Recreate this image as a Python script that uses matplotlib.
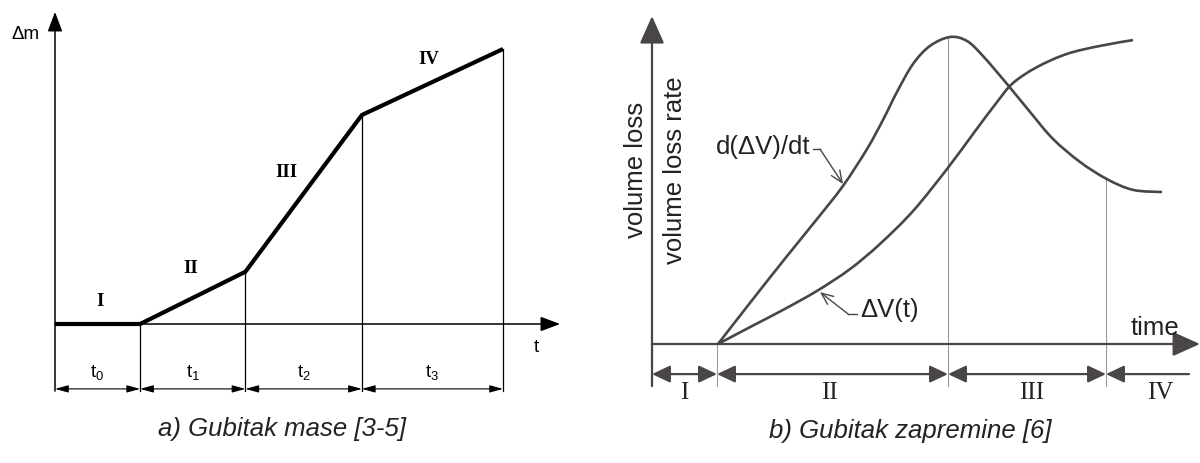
import matplotlib.pyplot as plt
import numpy as np
from matplotlib.path import Path
from matplotlib.patches import PathPatch

plt.rcParams["font.family"] = ["Liberation Sans", "DejaVu Sans"]
plt.rcParams["mathtext.fontset"] = "custom"
plt.rcParams["mathtext.rm"] = "Liberation Sans"
plt.rcParams["mathtext.it"] = "Liberation Sans"

# a) mass loss: phase boundaries (time) and mass loss at each boundary
t_edges = [0.0, 0.76, 1.70, 2.74, 4.0]
mass = [0.0, 0.0, 0.19, 0.76, 1.0]
t_labels = ["$\\mathregular{t_0}$", "$\\mathregular{t_1}$",
            "$\\mathregular{t_2}$", "$\\mathregular{t_3}$"]
stage_labels = ["I", "II", "III", "IV"]

# b) volume loss: rate curve and cumulative curve
rate_t = [0.66, 0.98, 1.31, 1.65, 1.91, 2.15, 2.31, 2.45, 2.61, 2.78,
          2.98, 3.15, 3.31, 3.55, 3.78, 4.01, 4.28, 4.55, 4.81, 5.10]
rate_v = [0.0, 0.134, 0.270, 0.407, 0.515, 0.635, 0.730, 0.821, 0.912, 0.971,
          1.0, 0.987, 0.938, 0.847, 0.756, 0.668, 0.593, 0.537, 0.502, 0.495]
vol_t = [0.66, 0.98, 1.31, 1.65, 1.98, 2.28, 2.61, 2.95, 3.21, 3.45,
         3.61, 3.85, 4.15, 4.48, 4.81]
vol_v = [0.0, 0.055, 0.111, 0.173, 0.244, 0.326, 0.433, 0.570, 0.684, 0.788,
         0.850, 0.902, 0.945, 0.971, 0.990]
phase_edges = [0.0, 0.65, 2.96, 4.54]
phase_end = 5.37
phase_labels = ["I", "II", "III", "IV"]

fig = plt.figure(figsize=(12, 4.64), dpi=100)


def arrow(ax, start, end, style, color, lw, ms, hl, hw):
    ax.annotate("", xy=end, xytext=start, annotation_clip=False,
                arrowprops=dict(arrowstyle=f"{style},head_length={hl},head_width={hw}",
                                color=color, lw=lw, shrinkA=0, shrinkB=0,
                                mutation_scale=ms))


def smooth_curve(ax, xs, ys, **kw):
    # Catmull-Rom through the read points, drawn as cubic Bezier segments
    p = np.column_stack([xs, ys])
    verts = [p[0]]
    codes = [Path.MOVETO]
    for i in range(len(p) - 1):
        p0 = p[i - 1] if i > 0 else p[i]
        p3 = p[i + 2] if i + 2 < len(p) else p[i + 1]
        c1 = p[i] + (p[i + 1] - p0) / 6
        c2 = p[i + 1] - (p3 - p[i]) / 6
        verts += [c1, c2, p[i + 1]]
        codes += [Path.CURVE4] * 3
    ax.add_patch(PathPatch(Path(verts, codes), fill=False, clip_on=False, **kw))


# ---------------- left panel ----------------
axL = fig.add_axes([55 / 1200, (464 - 325) / 464, 448 / 1200, 275 / 464])
axL.set_xlim(0, 4.0)
axL.set_ylim(0, 1)
axL.axis("off")

k = "black"
y_dim = -0.236
y_bot = -0.244
arrow(axL, (0, y_bot), (0, 1.135), "-|>", k, 1.1, 10, 1.2, 0.45)
arrow(axL, (0, 0), (4.51, 0), "-|>", k, 1.1, 10, 1.2, 0.45)
axL.plot(t_edges, mass, color=k, lw=3.0, solid_joinstyle="miter",
         solid_capstyle="butt", clip_on=False, zorder=3)
for t, m in zip(t_edges[1:], mass[1:]):
    axL.plot([t, t], [y_bot, m], color=k, lw=0.9, clip_on=False)
for i in range(4):
    arrow(axL, (t_edges[i], y_dim), (t_edges[i + 1], y_dim), "<|-|>", k, 0.8, 10, 0.8, 0.22)
    axL.text((t_edges[i] + t_edges[i + 1]) / 2, -0.171, t_labels[i],
             ha="center", va="center", fontsize=13.5)

stage_pos = [(0.40, 0.084), (1.21, 0.204), (2.07, 0.556), (3.34, 0.964)]
for (x, y), s in zip(stage_pos, stage_labels):
    axL.text(x, y, s, ha="center", va="center", fontsize=13.5, fontweight="bold",
             family="Liberation Serif")
axL.text(-0.26, 1.055, "Δm", ha="center", va="center", fontsize=13.5)
axL.text(4.30, -0.08, "t", ha="center", va="center", fontsize=13.5)
axL.text(2.03, -0.38, "a) Gubitak mase [3-5]", ha="center", va="center",
         fontsize=18.5, style="italic", color="#222222")

# ---------------- right panel ----------------
axR = fig.add_axes([652 / 1200, (464 - 345) / 464, 548 / 1200, 307 / 464])
axR.set_xlim(0, 5.48)
axR.set_ylim(0, 1)
axR.axis("off")

g = "#4a4547"
lg = "#9a9a9a"
r_dim = -0.098
r_bot = -0.137
arrow(axR, (0, r_bot), (0, 1.068), "-|>", g, 1.6, 20, 0.85, 0.38)
arrow(axR, (0, 0), (5.48, 0), "-|>", g, 1.6, 20, 0.85, 0.38)
smooth_curve(axR, rate_t, rate_v, edgecolor=g, lw=1.9, zorder=3)
smooth_curve(axR, vol_t, vol_v, edgecolor=g, lw=1.9, zorder=3)

tops = [0.0, 0.0, max(rate_v), float(np.interp(phase_edges[3], rate_t, rate_v))]
for x, top in zip(phase_edges, tops):
    axR.plot([x, x], [r_bot, top], color=lg, lw=0.8, clip_on=False, zorder=1)

for i in range(3):
    arrow(axR, (phase_edges[i], r_dim), (phase_edges[i + 1], r_dim), "<|-|>", g, 1.6, 20, 0.55, 0.26)
arrow(axR, (phase_end, r_dim), (phase_edges[3], r_dim), "-|>", g, 1.6, 20, 0.55, 0.26)

phase_pos = [0.32, 1.77, 3.80, 5.08]
for x, s in zip(phase_pos, phase_labels):
    axR.text(x, -0.156, s, ha="center", va="center", fontsize=18,
             family="Liberation Serif", color="#222222")

axR.text(5.03, 0.055, "time", ha="center", va="center", fontsize=18.5, color="#222222")
axR.text(-0.16, 0.57, "volume loss", rotation=90, ha="center", va="center",
         fontsize=18.5, color="#222222")
axR.text(0.23, 0.57, "volume loss rate", rotation=90, ha="center", va="center",
         fontsize=18.5, color="#222222")

axR.text(1.58, 0.645, "d(ΔV)/dt", ha="right", va="center", fontsize=18.5, color="#222222")
axR.plot([1.61, 1.68], [0.635, 0.635], color=g, lw=1.0)
arrow(axR, (1.68, 0.635), (1.91, 0.521), "->", g, 1.0, 12, 0.7, 0.3)

axR.text(2.08, 0.114, "ΔV(t)", ha="left", va="center", fontsize=18.5, color="#222222")
axR.plot([2.05, 1.96], [0.098, 0.098], color=g, lw=1.0)
arrow(axR, (1.96, 0.098), (1.68, 0.169), "->", g, 1.0, 12, 0.7, 0.3)

axR.text(2.58, -0.28, "b) Gubitak zapremine [6]", ha="center", va="center",
         fontsize=18.5, style="italic", color="#222222")

fig.savefig("out.png", dpi=100, facecolor="white")
